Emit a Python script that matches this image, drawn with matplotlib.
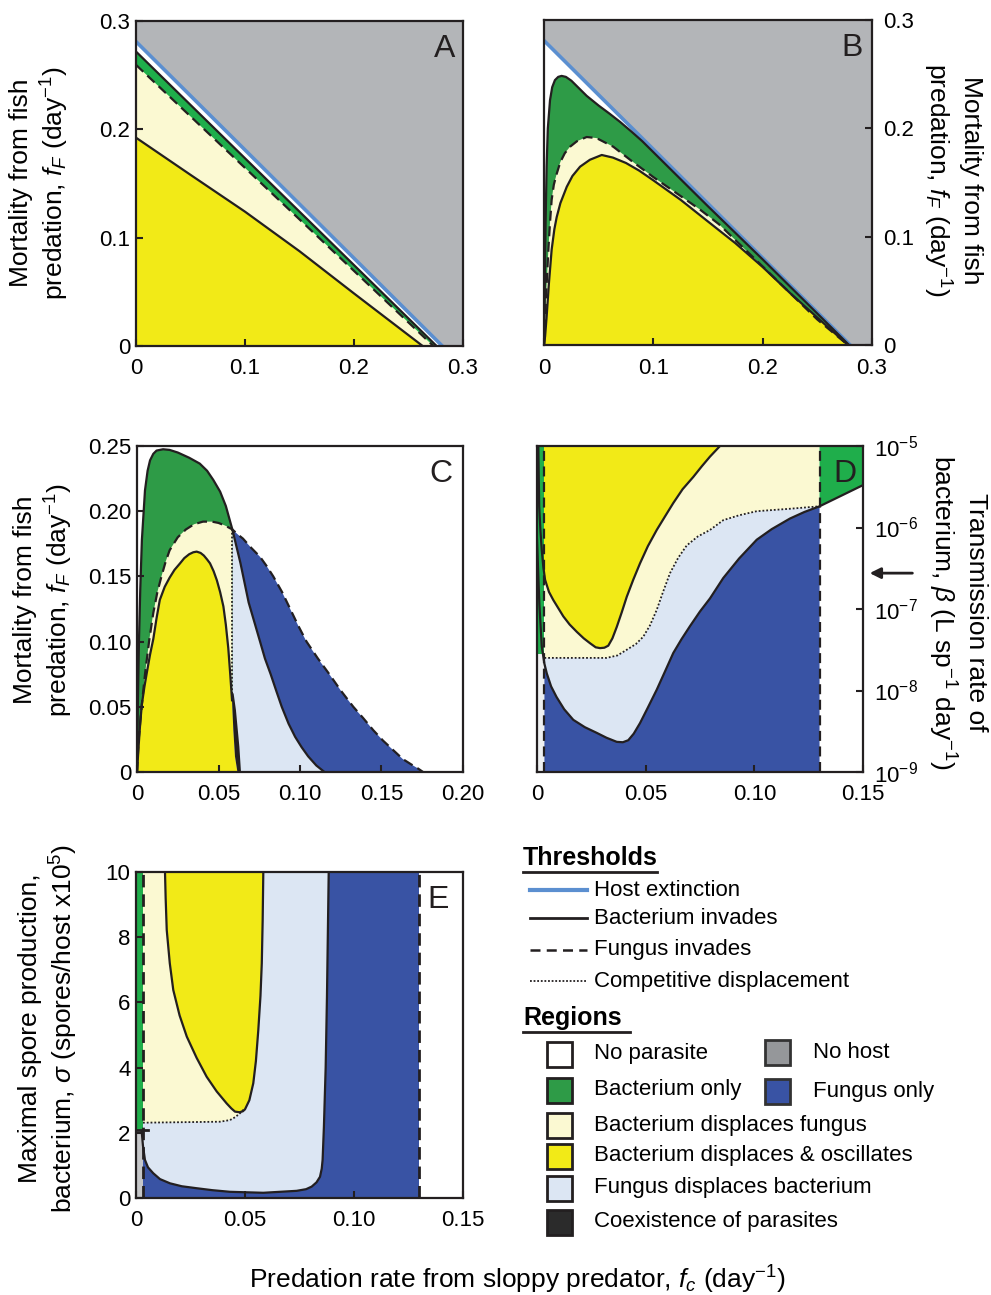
import numpy as np
import matplotlib
matplotlib.use("Agg")
import matplotlib.pyplot as plt
from matplotlib.patches import Rectangle
from matplotlib.ticker import NullLocator

plt.rcParams['font.family'] = ['Liberation Sans', 'DejaVu Sans']
plt.rcParams['mathtext.fontset'] = 'custom'
plt.rcParams['mathtext.rm'] = 'Liberation Sans'
plt.rcParams['mathtext.it'] = 'Liberation Sans:italic'
plt.rcParams['mathtext.bf'] = 'Liberation Sans:bold'

# ---------------- colours ----------------
GREY = '#b3b5b8'
GREEN_DK = '#2e9b47'
GREEN_LT = '#1fae4b'
LYELLOW = '#fbf9d2'
YELLOW = '#f2ea17'
LBLUE = '#dce6f3'
DBLUE = '#3953a4'
BLUE_LINE = '#5b8fd0'
BLK = '#231f20'

# ---------------- Panel A data ----------------
A_host_x = [0.0, 0.1, 0.2, 0.281]
A_host_y = [0.281, 0.181, 0.081, 0.0]
A_bact_x = [0.0, 0.1, 0.2, 0.2758]
A_bact_y = [0.2718, 0.1733, 0.0747, 0.0]
A_fung_x = [0.0, 0.1, 0.2, 0.2728]
A_fung_y = [0.2595, 0.1644, 0.0693, 0.0]
A_osc_x = [0.0, 0.05, 0.1, 0.15, 0.2, 0.263]
A_osc_y = [0.1923, 0.158, 0.124, 0.0875, 0.0485, 0.0]

# ---------------- Panel B data ----------------
B_host_x = [0.0, 0.28]
B_host_y = [0.281, 0.0]
B_bact_x = [0.0, 0.0005, 0.0009, 0.0015, 0.0024, 0.0035, 0.0055, 0.0075, 0.010,
            0.013, 0.0161, 0.020, 0.025, 0.031, 0.039, 0.05, 0.06, 0.0695,
            0.08, 0.09, 0.100, 0.15, 0.20, 0.25, 0.279]
B_bact_y = [0.0, 0.035, 0.072, 0.115, 0.165, 0.200, 0.226, 0.238, 0.2445,
            0.2475, 0.2484, 0.2475, 0.244, 0.238, 0.230, 0.221, 0.2135, 0.206,
            0.197, 0.188, 0.178, 0.128, 0.079, 0.029, 0.0]
B_fung_x = [0.0, 0.0008, 0.0018, 0.003, 0.004, 0.0055, 0.007, 0.009, 0.0116,
            0.015, 0.019, 0.0238, 0.03, 0.039, 0.048, 0.0634, 0.08, 0.100,
            0.12, 0.1427, 0.16, 0.18, 0.20, 0.25, 0.278]
B_fung_y = [0.0, 0.018, 0.042, 0.068, 0.088, 0.113, 0.134, 0.148, 0.158,
            0.169, 0.177, 0.183, 0.188, 0.192, 0.191, 0.183, 0.170, 0.155,
            0.141, 0.125, 0.1115, 0.092, 0.0725, 0.0235, 0.0]
B_osc_x = [0.0, 0.001, 0.0024, 0.0045, 0.007, 0.0095, 0.0116, 0.015, 0.0208,
           0.026, 0.033, 0.042, 0.0528, 0.063, 0.075, 0.087, 0.1, 0.125,
           0.1487, 0.175, 0.2, 0.225, 0.2525, 0.278]
B_osc_y = [0.0, 0.008, 0.026, 0.057, 0.088, 0.107, 0.118, 0.131, 0.146,
           0.156, 0.1646, 0.171, 0.1754, 0.173, 0.168, 0.161, 0.152, 0.134,
           0.115, 0.094, 0.072, 0.048, 0.023, 0.0]

# ---------------- Panel C data ----------------
C_meet_x = 0.0585
C_bact_x = [0.0, 0.0005, 0.0012, 0.002, 0.003, 0.0049, 0.0065, 0.008, 0.010,
            0.012, 0.016, 0.020, 0.025, 0.032, 0.0385, 0.043, 0.0468, 0.051,
            0.0545, 0.0585, 0.061, 0.0635, 0.066, 0.0685, 0.072, 0.0755,
            0.0785, 0.082, 0.0855, 0.0888, 0.093, 0.097, 0.101, 0.105, 0.11,
            0.115]
C_bact_y = [0.0, 0.05, 0.10, 0.14, 0.178, 0.216, 0.231, 0.239, 0.244,
            0.2465, 0.2475, 0.247, 0.245, 0.241, 0.2365, 0.231, 0.224, 0.215,
            0.204, 0.186, 0.173, 0.16, 0.145, 0.13, 0.115, 0.10,
            0.087, 0.075, 0.062, 0.05, 0.037, 0.027, 0.019, 0.012, 0.005,
            0.0]
C_fung_x = [0.0, 0.001, 0.003, 0.005, 0.0075, 0.01, 0.0125, 0.015, 0.0175, 0.02,
            0.025, 0.03, 0.035, 0.0405, 0.046, 0.05, 0.054, 0.0585, 0.062,
            0.065, 0.070, 0.0755, 0.0795, 0.0836, 0.089, 0.094, 0.099, 0.104,
            0.111, 0.118, 0.125, 0.1327, 0.139, 0.145, 0.151, 0.157, 0.163,
            0.168, 0.172, 0.1755]
C_fung_y = [0.0, 0.0245, 0.052, 0.076, 0.101, 0.122, 0.138, 0.150, 0.161, 0.170,
            0.180, 0.186, 0.190, 0.192, 0.192, 0.191, 0.189, 0.186, 0.182,
            0.179, 0.172, 0.165, 0.158, 0.15, 0.138, 0.125, 0.112, 0.10,
            0.087, 0.075, 0.0625, 0.05, 0.041, 0.032, 0.024, 0.017, 0.010,
            0.006, 0.003, 0.0]
C_osc_x = [0.0, 0.001, 0.002, 0.003, 0.0045, 0.006, 0.008, 0.01, 0.012, 0.014,
           0.017, 0.02, 0.023, 0.0264, 0.029, 0.032, 0.0345, 0.0366, 0.039,
           0.041, 0.043, 0.0448, 0.047, 0.049, 0.051, 0.053, 0.0545, 0.056,
           0.0572, 0.0583, 0.0591, 0.0601, 0.0616]
C_osc_y = [0.0, 0.02, 0.038, 0.052, 0.065, 0.076, 0.09, 0.102, 0.118, 0.132,
           0.142, 0.149, 0.155, 0.16, 0.164, 0.167, 0.1685, 0.169, 0.168,
           0.166, 0.163, 0.16, 0.154, 0.147, 0.138, 0.127, 0.113, 0.095,
           0.075, 0.055, 0.032, 0.012, 0.0]
C_coex_x = [0.0581, 0.0593, 0.0607, 0.0628, 0.0638, 0.0616, 0.0601, 0.0591, 0.0583]
C_coex_y = [0.062, 0.060, 0.0475, 0.0194, 0.0, 0.0, 0.012, 0.032, 0.055]
C_disp_x = [0.0585, 0.0585]
C_disp_y = [0.186, 0.060]

# ---------------- Panel D data (beta as log10) ----------------
D_fung_x = [0.0034, 0.130]
D_green_strip_bottom = -7.55
D_lower_x = [0.0, 0.0011, 0.0022, 0.0034, 0.0045, 0.0065, 0.009, 0.0125, 0.0167,
             0.022, 0.0275, 0.032, 0.0367, 0.0395, 0.042, 0.0445, 0.0474, 0.051,
             0.0551, 0.059, 0.0627, 0.0665, 0.0704, 0.075, 0.0796, 0.0857,
             0.093, 0.1011, 0.108, 0.1164, 0.123, 0.130, 0.140, 0.150]
D_lower_logb = [-6.15, -6.95, -7.46, -7.67, -7.79, -7.95, -8.08, -8.23, -8.36,
                -8.45, -8.52, -8.58, -8.63, -8.635, -8.61, -8.53, -8.40, -8.21,
                -7.99, -7.76, -7.54, -7.37, -7.21, -7.03, -6.87, -6.62,
                -6.38, -6.15, -6.02, -5.89, -5.81, -5.74, -5.61, -5.48]
D_osc_x = [0.0006, 0.001, 0.0016, 0.0022, 0.0029, 0.0037, 0.0055, 0.0075, 0.0098,
           0.0121, 0.015, 0.0183, 0.0215, 0.0244, 0.027, 0.029, 0.031, 0.0328,
           0.0347, 0.0367, 0.039, 0.0413, 0.0443, 0.0474, 0.051, 0.0551, 0.059,
           0.0627, 0.067, 0.0719, 0.0758, 0.0796, 0.0842]
D_osc_logb = [-5.0, -5.74, -6.05, -6.28, -6.48, -6.64, -6.79, -6.89, -6.99,
              -7.09, -7.19, -7.28, -7.36, -7.42, -7.47, -7.48, -7.475, -7.45,
              -7.36, -7.22, -7.04, -6.85, -6.64, -6.44, -6.23, -6.03, -5.86,
              -5.70, -5.53, -5.38, -5.25, -5.13, -5.0]
D_disp_x = [0.0034, 0.032, 0.037, 0.0413, 0.0455, 0.0489, 0.052, 0.0551, 0.058,
            0.0612, 0.065, 0.0689, 0.074, 0.0796, 0.0857, 0.093, 0.1011,
            0.1164, 0.130]
D_disp_logb = [-7.60, -7.60, -7.57, -7.50, -7.43, -7.34, -7.20, -7.01, -6.79,
               -6.56, -6.37, -6.22, -6.11, -6.03, -5.91, -5.85, -5.80,
               -5.77, -5.74]
D_arrow_logb = -6.56

# ---------------- Panel E data ----------------
E_fung_x = [0.0032, 0.130]
E_green_bottom = 2.1
E_lower_x = [0.0026, 0.0032, 0.0041, 0.0055, 0.0079, 0.011, 0.0156, 0.021, 0.0278,
             0.035, 0.0431, 0.0584, 0.0737, 0.078, 0.0806, 0.0828, 0.0844,
             0.0852, 0.0856, 0.0862, 0.0870, 0.0876, 0.0884]
E_lower_y = [2.05, 1.6, 1.17, 0.94, 0.76, 0.58, 0.45, 0.36, 0.30,
             0.24, 0.19, 0.16, 0.22, 0.27, 0.35, 0.48, 0.65,
             0.9, 1.17, 2.19, 4.0, 6.18, 10.0]
E_osc_x = [0.0133, 0.0136, 0.0141, 0.0155, 0.0171, 0.02, 0.0233, 0.0278, 0.0324,
           0.037, 0.0416, 0.0437, 0.0454, 0.0475, 0.049, 0.05, 0.052, 0.0538,
           0.055, 0.0561, 0.0571, 0.0577, 0.0581, 0.0584]
E_osc_y = [10.0, 9.2, 8.22, 7.2, 6.38, 5.6, 4.95, 4.3, 3.72,
           3.27, 2.90, 2.75, 2.65, 2.63, 2.66, 2.72, 3.0, 3.52,
           4.2, 5.15, 6.2, 7.2, 8.5, 10.0]
E_disp_x = [0.0032, 0.0385, 0.0431, 0.0455, 0.0477, 0.0495]
E_disp_y = [2.31, 2.34, 2.39, 2.48, 2.60, 2.72]

# ---------------- tick labels ----------------
AB_ticks = [0, 0.1, 0.2, 0.3]
AB_labels = ['0', '0.1', '0.2', '0.3']
C_xticks = [0, 0.05, 0.10, 0.15, 0.20]
C_xlabels = ['0', '0.05', '0.10', '0.15', '0.20']
C_yticks = [0, 0.05, 0.10, 0.15, 0.20, 0.25]
C_ylabels = ['0', '0.05', '0.10', '0.15', '0.20', '0.25']
DE_xticks = [0, 0.05, 0.10, 0.15]
DE_xlabels = ['0', '0.05', '0.10', '0.15']
D_yexp = [-9, -8, -7, -6, -5]
E_yticks = [0, 2, 4, 6, 8, 10]

# =====================================================
W, H = 991, 1295
fig = plt.figure(figsize=(W / 100, H / 100), dpi=100)


def rect(l, t, r, b):
    return [l / W, 1 - b / H, (r - l) / W, (b - t) / H]


def style(ax):
    for s in ax.spines.values():
        s.set_linewidth(1.6)
        s.set_color(BLK)
        s.set_zorder(10)
    ax.tick_params(direction='in', length=5, width=1.5, labelsize=16,
                   color=BLK)
    ax.tick_params(axis='x', pad=9)
    ax.tick_params(axis='y', pad=4)


def hump(ax, x, y, color):
    ax.fill(np.r_[0.0, x], np.r_[0.0, y], color=color, lw=0, zorder=1)


LW = 1.6
DASH = (0, (4.5, 2.5))
DOT = (0, (1, 1.1))

# ---------------- Panel A ----------------
axA = fig.add_axes(rect(136, 21, 463, 346))
axA.set_facecolor(GREY)
hump(axA, A_host_x, A_host_y, 'white')
hump(axA, A_bact_x, A_bact_y, GREEN_LT)
hump(axA, A_fung_x, A_fung_y, LYELLOW)
hump(axA, A_osc_x, A_osc_y, YELLOW)
axA.plot(A_host_x, A_host_y, color=BLUE_LINE, lw=2.6, zorder=3)
axA.plot(A_bact_x, A_bact_y, color=BLK, lw=LW, zorder=3)
axA.plot(A_fung_x, A_fung_y, color=BLK, lw=LW, ls=DASH, zorder=3)
axA.plot(A_osc_x, A_osc_y, color=BLK, lw=LW, zorder=3)
axA.set_xlim(0, 0.3); axA.set_ylim(0, 0.3)
axA.set_xticks(AB_ticks, AB_labels); axA.set_yticks(AB_ticks, AB_labels)
style(axA)

# ---------------- Panel B ----------------
axB = fig.add_axes(rect(544, 20, 872, 345))
axB.set_facecolor(GREY)
hump(axB, B_host_x, B_host_y, 'white')
hump(axB, B_bact_x, B_bact_y, GREEN_DK)
hump(axB, B_fung_x, B_fung_y, LYELLOW)
hump(axB, B_osc_x, B_osc_y, YELLOW)
axB.plot(B_host_x, B_host_y, color=BLUE_LINE, lw=2.6, zorder=3)
axB.plot(B_bact_x, B_bact_y, color=BLK, lw=LW, zorder=3)
axB.plot(B_fung_x, B_fung_y, color=BLK, lw=LW, ls=DASH, zorder=3)
axB.plot(B_osc_x, B_osc_y, color=BLK, lw=LW, zorder=3)
axB.set_xlim(0, 0.3); axB.set_ylim(0, 0.3)
axB.set_xticks(AB_ticks, AB_labels); axB.set_yticks(AB_ticks, AB_labels)
axB.yaxis.tick_right()
style(axB)
axB.tick_params(axis='y', pad=8)

# ---------------- Panel C ----------------
axC = fig.add_axes(rect(137, 446, 463, 772))
cbx, cby = np.array(C_bact_x), np.array(C_bact_y)
cfx, cfy = np.array(C_fung_x), np.array(C_fung_y)
cox, coy = np.array(C_osc_x), np.array(C_osc_y)
hump(axC, C_fung_x, C_fung_y, DBLUE)
hump(axC, C_bact_x, C_bact_y, GREEN_DK)
m = cfx <= C_meet_x
axC.fill(np.r_[cfx[m], C_meet_x], np.r_[cfy[m], 0.0], color=LYELLOW, lw=0, zorder=1)
m = cbx >= C_meet_x
axC.fill(np.r_[C_meet_x, cbx[m]], np.r_[0.0, cby[m]], color=LBLUE, lw=0, zorder=1)
hump(axC, C_osc_x, C_osc_y, YELLOW)
axC.fill(C_coex_x, C_coex_y, color=BLK, lw=0, zorder=2)
axC.plot(C_bact_x, C_bact_y, color=BLK, lw=LW, zorder=3)
axC.plot(C_fung_x, C_fung_y, color=BLK, lw=LW, ls=DASH, zorder=3)
mo = cox <= 0.0583
axC.plot(cox[mo], coy[mo], color=BLK, lw=LW, zorder=3)
axC.plot(C_disp_x, C_disp_y, color=BLK, lw=1.3, ls=DOT, zorder=3)
axC.set_xlim(0, 0.2); axC.set_ylim(0, 0.25)
axC.set_xticks(C_xticks, C_xlabels); axC.set_yticks(C_yticks, C_ylabels)
style(axC)

# ---------------- Panel D ----------------
axD = fig.add_axes(rect(537, 446, 863, 772))
axD.set_yscale('log')
ylo, yhi = 10.0 ** D_yexp[0], 10.0 ** D_yexp[-1]
lx, lb = np.array(D_lower_x), 10.0 ** np.array(D_lower_logb)
dx, db = np.array(D_disp_x), 10.0 ** np.array(D_disp_logb)
ox, ob = np.array(D_osc_x), 10.0 ** np.array(D_osc_logb)
fx0, fx1 = D_fung_x
m = (lx >= fx0) & (lx <= fx1)
axD.fill(np.r_[lx[m], fx1, fx0], np.r_[lb[m], ylo, ylo], color=DBLUE, lw=0, zorder=1)
axD.fill(np.r_[dx, lx[m][::-1]], np.r_[db, lb[m][::-1]], color=LBLUE, lw=0, zorder=1)
axD.fill(np.r_[dx, fx1, fx0], np.r_[db, yhi, yhi], color=LYELLOW, lw=0, zorder=1)
axD.fill(ox, ob, color=YELLOW, lw=0, zorder=1)
m2 = lx >= fx1
axD.fill(np.r_[lx[m2], 0.15, fx1], np.r_[lb[m2], yhi, yhi], color=GREEN_LT, lw=0, zorder=1)
gb = 10.0 ** D_green_strip_bottom
axD.fill([0, fx0, fx0, 0], [gb, gb, yhi, yhi], color=GREEN_LT, lw=0, zorder=1)
axD.fill([0, fx0, fx0, 0], [ylo, ylo, gb, gb], color='#eef0f1', lw=0, zorder=1)
axD.plot(lx, lb, color=BLK, lw=LW, zorder=3)
axD.plot(ox, ob, color=BLK, lw=LW, zorder=3)
axD.plot(dx, db, color=BLK, lw=1.3, ls=DOT, zorder=3)
for fx in D_fung_x:
    axD.plot([fx, fx], [ylo, yhi], color=BLK, lw=LW, ls=DASH, zorder=3)
axD.set_xlim(0, 0.15); axD.set_ylim(ylo, yhi)
axD.set_xticks(DE_xticks, DE_xlabels)
axD.set_yticks([10.0 ** e for e in D_yexp], [r'10$^{%d}$' % e for e in D_yexp])
axD.yaxis.set_minor_locator(NullLocator())
axD.yaxis.tick_right()
style(axD)
axD.tick_params(axis='y', pad=8)
ay = (D_arrow_logb - D_yexp[0]) / (D_yexp[-1] - D_yexp[0])
axD.annotate('', xy=(1.012, ay), xytext=(1.16, ay), xycoords='axes fraction',
             arrowprops=dict(arrowstyle='-|>', color=BLK, lw=2, mutation_scale=16),
             annotation_clip=False)

# ---------------- Panel E ----------------
axE = fig.add_axes(rect(136, 872, 463, 1198))
ex, ey = np.array(E_lower_x), np.array(E_lower_y)
e0, e1 = E_fung_x
axE.fill([e0, e1, e1, e0], [0, 0, 10, 10], color=DBLUE, lw=0, zorder=1)
m = ex >= e0
axE.fill(np.r_[ex[m], e0], np.r_[ey[m], 10], color=LBLUE, lw=0, zorder=1)
axE.fill(np.r_[E_disp_x, E_disp_x[-1], e0], np.r_[E_disp_y, 10, 10],
         color=LYELLOW, lw=0, zorder=1)
axE.fill(E_osc_x, E_osc_y, color=YELLOW, lw=0, zorder=1)
axE.fill([0, e0, e0, 0], [E_green_bottom, E_green_bottom, 10, 10], color=GREEN_LT, lw=0, zorder=1)
axE.fill([0, e0, e0, 0], [0, 0, E_green_bottom, E_green_bottom], color='#c6c7c9', lw=0, zorder=1)
axE.plot(E_lower_x, E_lower_y, color=BLK, lw=LW, zorder=3)
axE.plot(E_osc_x, E_osc_y, color=BLK, lw=LW, zorder=3)
axE.plot(E_disp_x, E_disp_y, color=BLK, lw=1.3, ls=DOT, zorder=3)
axE.plot([0, 0.0055], [E_green_bottom, E_green_bottom], color=BLK, lw=2, zorder=3)
for fx in E_fung_x:
    axE.plot([fx, fx], [0, 10], color=BLK, lw=2, ls=DASH, zorder=3)
axE.set_xlim(0, 0.15); axE.set_ylim(0, 10)
axE.set_xticks(DE_xticks, DE_xlabels)
axE.set_yticks(E_yticks, [str(v) for v in E_yticks])
style(axE)

# ---------------- panel letters ----------------
for ax, lab, xp in [(axA, 'A', 0.975), (axB, 'B', 0.973), (axC, 'C', 0.969),
                    (axD, 'D', 0.98), (axE, 'E', 0.955)]:
    ax.text(xp, 0.89, lab, transform=ax.transAxes, ha='right', va='baseline',
            fontsize=23, color=BLK, zorder=20)

# ---------------- axis labels ----------------
lab_mort = 'Mortality from fish\npredation, $f_F$ (day$^{-1}$)'
fig.text(40 / W, 1 - 183 / H, lab_mort, rotation=90, ha='center', va='center',
         fontsize=19, linespacing=1.25, multialignment='center')
fig.text(952 / W, 1 - 180 / H, lab_mort, rotation=-90, ha='center', va='center',
         fontsize=19, linespacing=1.25, multialignment='center')
fig.text(44 / W, 1 - 600 / H, lab_mort, rotation=90, ha='center', va='center',
         fontsize=19, linespacing=1.25, multialignment='center')
fig.text(957 / W, 1 - 612 / H,
         'Transmission rate of\nbacterium, $\\beta$ (L sp$^{-1}$ day$^{-1}$)',
         rotation=-90, ha='center', va='center', fontsize=19, linespacing=1.25,
         multialignment='center')
fig.text(49 / W, 1 - 1028 / H,
         'Maximal spore production,\nbacterium, $\\sigma$ (spores/host x10$^5$)',
         rotation=90, ha='center', va='center', fontsize=19, linespacing=1.25,
         multialignment='center')
fig.text(517 / W, 1 - 1280 / H,
         'Predation rate from sloppy predator, $f_c$ (day$^{-1}$)',
         ha='center', va='center', fontsize=19)

# ---------------- legend (pixel overlay) ----------------
ov = fig.add_axes([0, 0, 1, 1])
ov.set_xlim(0, W); ov.set_ylim(H, 0); ov.axis('off'); ov.patch.set_alpha(0)

ov.text(523, 858, 'Thresholds', fontsize=18, fontweight='bold', va='center', ha='left')
ov.plot([523, 657], [871.5, 871.5], color=BLK, lw=2)
thr = [('Host extinction', 890, dict(color=BLUE_LINE, lw=3)),
       ('Bacterium invades', 918, dict(color=BLK, lw=2)),
       ('Fungus invades', 950, dict(color=BLK, lw=1.8, ls=(0, (4, 2.5)))),
       ('Competitive displacement', 981, dict(color=BLK, lw=1.3, ls=(0, (1, 1))))]
for txt, yy, kw in thr:
    ov.plot([530, 587], [yy, yy], **kw)
    ov.text(594, yy, txt, fontsize=16, va='center', ha='left')

ov.text(523, 1018, 'Regions', fontsize=18, fontweight='bold', va='center', ha='left')
ov.plot([523, 630], [1031.5, 1031.5], color=BLK, lw=2)
reg_left = [('No parasite', 1054, 'white'),
            ('Bacterium only', 1090, GREEN_DK),
            ('Bacterium displaces fungus', 1125, LYELLOW),
            ('Bacterium displaces & oscillates', 1156, YELLOW),
            ('Fungus displaces bacterium', 1188, LBLUE),
            ('Coexistence of parasites', 1222, '#2b2b2b')]
for txt, yy, col in reg_left:
    ov.add_patch(Rectangle((547, yy - 12.5), 25, 25, facecolor=col,
                           edgecolor=BLK, lw=2))
    ov.text(594, yy, txt, fontsize=16, va='center', ha='left')
reg_right = [('No host', 1052, '#95979a'), ('Fungus only', 1091, DBLUE)]
for txt, yy, col in reg_right:
    ov.add_patch(Rectangle((765, yy - 12.5), 25, 25, facecolor=col,
                           edgecolor='#333333', lw=2))
    ov.text(813, yy, txt, fontsize=16, va='center', ha='left')

fig.savefig('out.png', dpi=100)
